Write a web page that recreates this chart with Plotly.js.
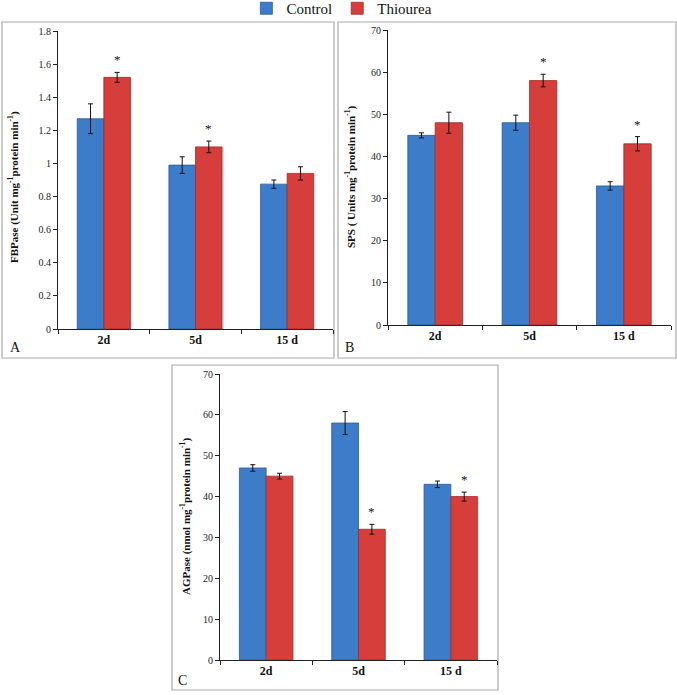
<!DOCTYPE html>
<html><head><meta charset="utf-8">
<script src="https://cdn.plot.ly/plotly-3.0.1.min.js"></script>
<style>html,body{margin:0;padding:0;background:#fff}</style>
</head><body><div id="chart" style="width:677px;height:695px"></div>
<script>
const categories = ['2d', '5d', '15 d'];
const seriesNames = ['Control', 'Thiourea'];

// Panel A: FBPase
const fbpControl = [1.27, 0.99, 0.875];
const fbpControlErr = [0.09, 0.05, 0.025];
const fbpThiourea = [1.52, 1.10, 0.94];
const fbpThioureaErr = [0.03, 0.035, 0.04];
const fbpStar = [true, true, false];

// Panel B: SPS
const spsControl = [45, 48, 33];
const spsControlErr = [0.6, 1.8, 1.0];
const spsThiourea = [48, 58, 43];
const spsThioureaErr = [2.5, 1.5, 1.7];
const spsStar = [false, true, true];

// Panel C: AGPase
const agpControl = [47, 58, 43];
const agpControlErr = [0.8, 2.8, 0.8];
const agpThiourea = [45, 32, 40];
const agpThioureaErr = [0.7, 1.2, 1.1];
const agpStar = [false, true, true];

const blue = '#3d7cc9', blueLine = '#2b5a94';
const red = '#d63e3b', redLine = '#a02c2a';
const serif = 'Liberation Serif';

const W = 677, H = 695;
const px = v => v / W;
const py = v => 1 - v / H;

const panels = [
  {xa:'x', ya:'y', c:fbpControl, ce:fbpControlErr, t:fbpThiourea, te:fbpThioureaErr, star:fbpStar,
   xd:[58,333], yd:[31,329], range:[0,1.8], dtick:0.2,
   title:'FBPase (Unit mg<sup>-1</sup>protein min<sup>-1</sup>)', tx:14, ty:187,
   box:[2,22,334,358], letter:'A', lx:15, ly:347},
  {xa:'x2', ya:'y2', c:spsControl, ce:spsControlErr, t:spsThiourea, te:spsThioureaErr, star:spsStar,
   xd:[388,671], yd:[30,325], range:[0,70], dtick:10,
   title:'SPS ( Units mg<sup>-1</sup>protein min<sup>-1</sup>)', tx:350, ty:177,
   box:[338,22,676,358], letter:'B', lx:349, ly:347},
  {xa:'x3', ya:'y3', c:agpControl, ce:agpControlErr, t:agpThiourea, te:agpThioureaErr, star:agpStar,
   xd:[220,497], yd:[374,660], range:[0,70], dtick:10,
   title:'AGPase (nmol mg<sup>-1</sup>protein min<sup>-1</sup>)', tx:185, ty:517,
   box:[172,365,498,690], letter:'C', lx:182, ly:680}
];

const bargap = 0.42;
const traces = [];
const shapes = [];
const annotations = [];
const layout = {
  width: W, height: H,
  margin: {l:0, r:0, t:0, b:0, autoexpand:false},
  paper_bgcolor:'#fff', plot_bgcolor:'#fff',
  barmode:'group', bargap: bargap, bargroupgap: 0,
  showlegend: true,
  legend: {orientation:'h', x:0.505, xanchor:'center', y:1.0115, yanchor:'top',
           bgcolor:'rgba(0,0,0,0)', font:{family:serif, size:15, color:'#111'}},
  font: {family: serif}
};

panels.forEach((p, i) => {
  const sfx = i === 0 ? '' : String(i + 1);
  traces.push({
    type:'bar', name:seriesNames[0], x:categories, y:p.c, xaxis:p.xa, yaxis:p.ya,
    marker:{color:blue, line:{color:blueLine, width:0.8}},
    error_y:{type:'data', array:p.ce, visible:true, color:'#111', thickness:1, width:2.5},
    showlegend: i === 0, legendgroup:'c'
  });
  traces.push({
    type:'bar', name:seriesNames[1], x:categories, y:p.t, xaxis:p.xa, yaxis:p.ya,
    marker:{color:red, line:{color:redLine, width:0.8}},
    error_y:{type:'data', array:p.te, visible:true, color:'#111', thickness:1, width:2.5},
    showlegend: i === 0, legendgroup:'t'
  });
  layout['xaxis' + sfx] = {
    domain:[px(p.xd[0]), px(p.xd[1])], anchor:p.ya, type:'category',
    showline:true, linecolor:'#222', linewidth:1, ticks:'outside', tickson:'boundaries',
    ticklen:4, tickcolor:'#222', showgrid:false, zeroline:false, fixedrange:true,
    tickfont:{family:serif, size:12, color:'#111', weight:'bold'}
  };
  layout['yaxis' + sfx] = {
    domain:[py(p.yd[1]), py(p.yd[0])], anchor:p.xa, range:p.range, dtick:p.dtick,
    showline:true, linecolor:'#222', linewidth:1, ticks:'outside', ticklen:4, tickcolor:'#222',
    showgrid:false, zeroline:false, fixedrange:true,
    tickfont:{family:serif, size:10, color:'#222'}
  };
  shapes.push({type:'rect', xref:'paper', yref:'paper',
    x0:px(p.box[0]), x1:px(p.box[2]), y0:py(p.box[3]), y1:py(p.box[1]),
    line:{color:'#a9a9a9', width:1.2}, layer:'below'});
  annotations.push({xref:'paper', yref:'paper', x:px(p.tx), y:py(p.ty), text:'<b>' + p.title + '</b>',
    textangle:-90, showarrow:false, font:{family:serif, size:11, color:'#111'}, xanchor:'center', yanchor:'middle'});
  annotations.push({xref:'paper', yref:'paper', x:px(p.lx), y:py(p.ly), text:p.letter,
    showarrow:false, font:{family:serif, size:14, color:'#111'}, xanchor:'center', yanchor:'middle'});
  const slotPx = (p.xd[1] - p.xd[0]) / categories.length;
  const barPx = slotPx * (1 - bargap) / 2;
  p.star.forEach((s, k) => {
    if (!s) return;
    annotations.push({xref:p.xa, yref:p.ya, x:categories[k], y:p.t[k] + p.te[k],
      xshift: barPx / 2, yshift: 3, text:'*', showarrow:false, yanchor:'bottom',
      font:{family:serif, size:13, color:'#111'}});
  });
});

layout.shapes = shapes;
layout.annotations = annotations;

Plotly.newPlot('chart', traces, layout, {displayModeBar:false, staticPlot:true});
</script>
</body></html>
